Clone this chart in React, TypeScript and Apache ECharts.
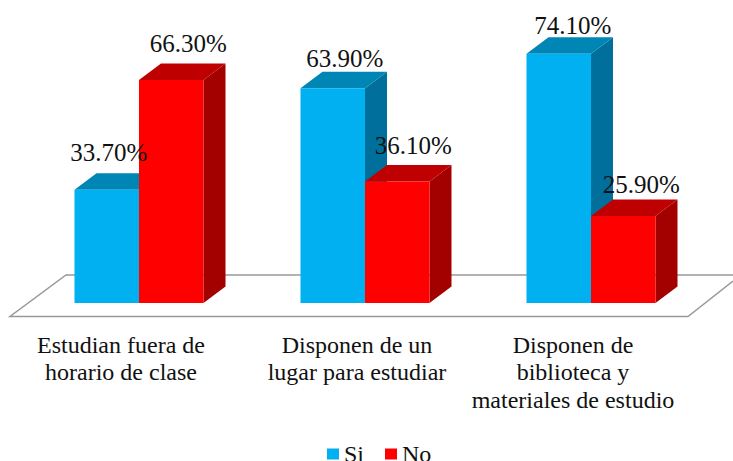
import React, { useEffect, useRef } from "react";
import * as echarts from "echarts";

const categories = [
  "Estudian fuera de\nhorario de clase",
  "Disponen de un\nlugar para estudiar",
  "Disponen de\nbiblioteca y\nmateriales de estudio",
];
const siValues = [33.7, 63.9, 74.1];
const noValues = [66.3, 36.1, 25.9];

const FONT = '"Liberation Serif", serif';
const BAR_W = 64.5;
const DX = 22;
const DY = 16.5;
const SI = { front: "#00b0f0", top: "#0086b5", side: "#006f9c" };
const NO = { front: "#ff0000", top: "#bf0000", side: "#a30000" };

// pixel nudges of the value labels relative to the bar's top
const siNudge = [[-15, -37], [-5, -30], [-3, -28]];
const noNudge = [[0, -37], [-1, -36], [1, -31]];
// right padding that moves each category label to the left of its slot
const labelPad = [36, 16, 36];

function barRenderer(side: number, c: { front: string; top: string; side: string }) {
  return (_p: any, api: any) => {
    const cat = api.value(0);
    const [cx, y] = api.coord([cat, api.value(1)]);
    const [, y0] = api.coord([cat, 0]);
    const x = side < 0 ? cx - BAR_W : cx;
    const w = BAR_W;
    return {
      type: "group",
      children: [
        { type: "polygon", shape: { points: [[x + w, y], [x + w + DX, y - DY], [x + w + DX, y0 - DY], [x + w, y0]] }, style: { fill: c.side } },
        { type: "polygon", shape: { points: [[x, y], [x + DX, y - DY], [x + w + DX, y - DY], [x + w, y]] }, style: { fill: c.top } },
        { type: "rect", shape: { x, y, width: w, height: y0 - y }, style: { fill: c.front } },
      ],
    };
  };
}

function labelRenderer(side: number, nudge: number[][]) {
  return (_p: any, api: any) => {
    const cat = api.value(0);
    const v = api.value(1);
    const [cx, y] = api.coord([cat, v]);
    const n = nudge[cat];
    return {
      type: "text",
      style: {
        x: cx + side * BAR_W / 2 + 17 + n[0],
        y: y + n[1],
        text: v.toFixed(2) + "%",
        font: `25px ${FONT}`,
        fill: "#111",
        align: "center",
        verticalAlign: "middle",
      },
    };
  };
}

export default function App() {
  const ref = useRef<HTMLDivElement>(null);
  useEffect(() => {
    const chart = echarts.init(ref.current!, undefined, { renderer: "svg" });
    const pair = (vals: number[]) => vals.map((v, i) => [i, v]);
    chart.setOption({
      animation: false,
      backgroundColor: "#fff",
      grid: { left: 26, width: 678, top: 34, height: 269 },
      xAxis: {
        type: "category",
        data: categories.map((value, i) => ({
          value,
          textStyle: { padding: [0, labelPad[i], 0, 0] },
        })),
        axisLine: { show: false },
        axisTick: { show: false },
        axisLabel: {
          interval: 0,
          margin: 28,
          fontFamily: FONT,
          fontSize: 24,
          lineHeight: 27.5,
          color: "#111",
          verticalAlign: "top",
        },
      },
      yAxis: { type: "value", min: 0, max: 80, show: false },
      legend: {
        data: [
          { name: "Si", itemStyle: { color: SI.front } },
          { name: "No", itemStyle: { color: NO.front } },
        ],
        left: 327,
        top: 442,
        itemWidth: 12,
        itemHeight: 11,
        itemGap: 21,
        selectedMode: false,
        icon: "rect",
        textStyle: { fontFamily: FONT, fontSize: 24, color: "#111" },
        padding: 0,
      },
      graphic: [
        {
          type: "polyline",
          z: 0,
          shape: { points: [[733, 275], [66, 275], [10, 316.5], [688, 316.5], [733, 281]] },
          style: { fill: "none", stroke: "#999", lineWidth: 1.5 },
        },
      ],
      series: [
        { type: "custom", name: "Si", z: 3, data: pair(siValues), renderItem: barRenderer(-1, SI), itemStyle: { color: SI.front }, encode: { x: 0, y: 1 } },
        { type: "custom", name: "No", z: 4, data: pair(noValues), renderItem: barRenderer(1, NO), itemStyle: { color: NO.front }, encode: { x: 0, y: 1 } },
        { type: "custom", name: "siLabels", z: 5, data: pair(siValues), renderItem: labelRenderer(-1, siNudge), encode: { x: 0, y: 1 } },
        { type: "custom", name: "noLabels", z: 5, data: pair(noValues), renderItem: labelRenderer(1, noNudge), encode: { x: 0, y: 1 } },
      ],
    });
    return () => chart.dispose();
  }, []);
  return <div ref={ref} style={{ position: "fixed", left: 0, top: 0, width: 733, height: 461 }} />;
}
